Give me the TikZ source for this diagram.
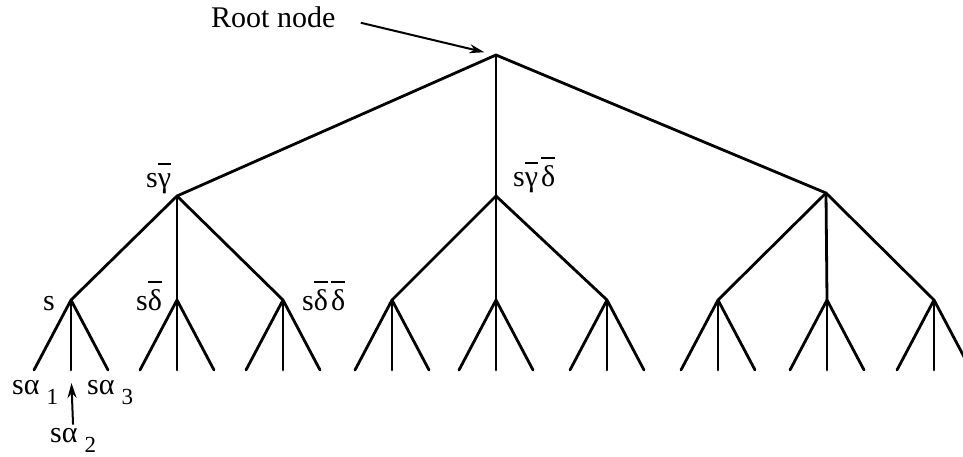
\documentclass[tikz,border=0pt]{standalone}
\usepackage{fontspec}
\setmainfont{Liberation Serif}
\usetikzlibrary{arrows.meta}
\newcommand{\ovl}[2][0.75em]{{\setbox0\hbox{#2}\rlap{\raisebox{#1}{\rule{\wd0}{1.8pt}}}\box0}}
\newcommand{\lowidx}[1]{\hspace{7pt}\raisebox{-10pt}{\fontsize{23}{26}\selectfont #1}}

\begin{document}
\begin{tikzpicture}[x=1pt, y=-1pt,
  every node/.style={font=\fontsize{30}{34}\selectfont, inner sep=0pt},
  edge/.style={line width=2.8pt, line cap=round},
  pointer/.style={line width=2pt, -{Stealth[length=15pt, width=9pt]}}]
\useasboundingbox (0,0) rectangle (963,456);
\clip (0,0) rectangle (963,456);
% tree points
\coordinate (root) at (496,55);
\coordinate (g) at (177,196);
\coordinate (gd) at (496,196);
\coordinate (r) at (826,193);
\foreach \p in {g, gd, r}
  \draw[edge] (root) -- (\p);
\foreach \p/\x [count=\i] in {g/71, g/177, g/283, gd/392, gd/496, gd/607, r/718, r/827, r/934} {
  \coordinate (n\i) at (\x,300);
  \coordinate (n\i-1) at (\x-37,370);
  \coordinate (n\i-2) at (\x,370);
  \coordinate (n\i-3) at (\x+37,370);
  \draw[edge] (\p) -- (n\i);
  \foreach \j in {1,2,3}
    \draw[edge] (n\i) -- (n\i-\j);
}
% labels
\node[anchor=base west] (rootlbl) at (211,27) {Root node};
\draw[pointer, shorten <=26pt, shorten >=12pt] (rootlbl.east) -- (root);
\node[anchor=base west] (ls) at (43,310) {s};
\node[anchor=base west] (lg) at (146,187) {s\ovl{γ}};
\node[anchor=base west] (ld) at (136,310) {s\ovl[0.9em]{δ}};
\node[anchor=base west] (ldd) at (302,310) {s\ovl[0.9em]{δ}\kern3pt\ovl[0.9em]{δ}};
\node[anchor=base west] (lgd) at (513,186) {s\ovl{γ}\kern3pt\ovl[0.9em]{δ}};
\node[anchor=base west] (la1) at (12,394) {sα\lowidx{1}};
\node[anchor=base west] (la3) at (87,394) {sα\lowidx{3}};
\node[anchor=base west] (la2) at (50,442) {sα\lowidx{2}};
\draw[pointer, shorten <=3pt, shorten >=13pt] (la2.north) -- (n1-2);
\end{tikzpicture}
\end{document}
